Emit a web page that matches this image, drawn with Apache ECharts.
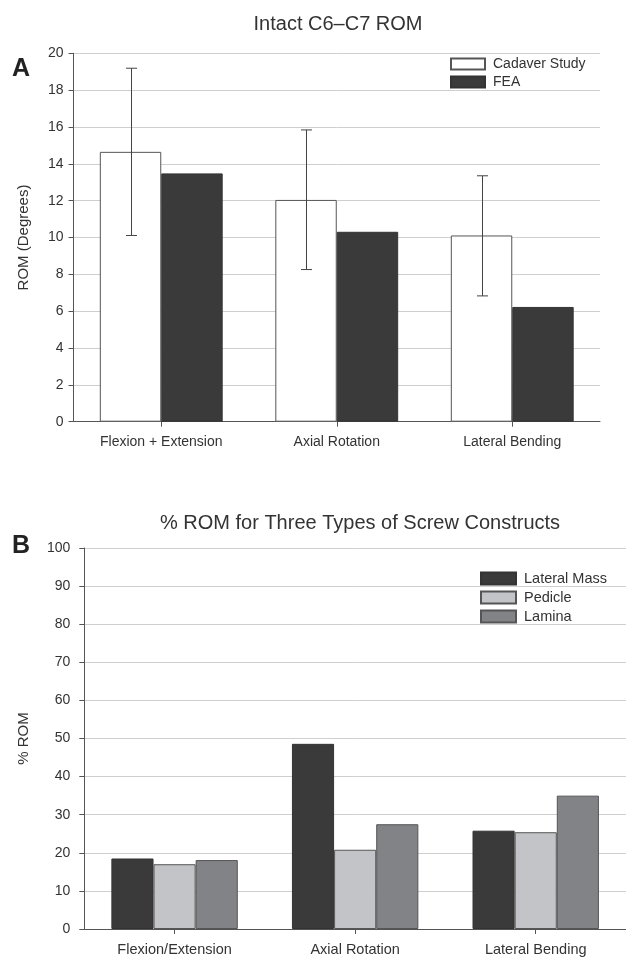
<!DOCTYPE html>
<html>
<head>
<meta charset="utf-8">
<script src="https://cdn.jsdelivr.net/npm/echarts@6/dist/echarts.min.js"></script>
<style>
html,body{margin:0;padding:0;background:#fff;}
#chart{width:626px;height:959px;}
</style>
</head>
<body>
<div id="chart"></div>
<script>
// ---- Panel A data ----
const categoriesA = ['Flexion + Extension', 'Axial Rotation', 'Lateral Bending'];
const cadaverStudy = [14.65, 12.04, 10.11];
const fea = [13.48, 10.31, 6.23];
const cadaverErrLow = [10.11, 8.26, 6.83];
const cadaverErrHigh = [19.19, 15.84, 13.35];
const yTicksA = { min: 0, max: 20, interval: 2 };

// ---- Panel B data ----
const categoriesB = ['Flexion/Extension', 'Axial Rotation', 'Lateral Bending'];
const lateralMass = [18.5, 48.6, 25.8];
const pedicle = [17.0, 20.8, 25.4];
const lamina = [18.1, 27.5, 35.0];
const yTicksB = { min: 0, max: 100, interval: 10 };

const FONT = 'Liberation Sans, Arial, sans-serif';
const TXT = '#333';
const AXIS = '#555';
const GRIDC = '#cfcfcf';

const errData = categoriesA.map((c, i) => [i, cadaverErrLow[i], cadaverErrHigh[i]]);

const chart = echarts.init(document.getElementById('chart'), null, { renderer: 'canvas' });

function yAxisCommon(gi, range, name, nameGap, fs, margin) {
  return {
    type: 'value', gridIndex: gi, min: range.min, max: range.max, interval: range.interval,
    name: name, nameLocation: 'middle', nameGap: nameGap, nameRotate: 90,
    nameTextStyle: { fontFamily: FONT, fontSize: 15, color: TXT },
    axisLine: { show: true, lineStyle: { color: AXIS, width: 1 } },
    axisTick: { show: true, length: 5, lineStyle: { color: AXIS } },
    axisLabel: { fontFamily: FONT, fontSize: fs, color: TXT, margin: margin },
    splitLine: { show: true, lineStyle: { color: GRIDC, width: 1 } }
  };
}
function xAxisCommon(gi, cats, fs) {
  return {
    type: 'category', gridIndex: gi, data: cats,
    axisLine: { show: true, lineStyle: { color: AXIS, width: 1 } },
    axisTick: { show: true, alignWithLabel: true, length: 5, lineStyle: { color: AXIS } },
    axisLabel: { fontFamily: FONT, fontSize: fs, color: TXT, margin: 13 },
    splitLine: { show: false }
  };
}

const option = {
  backgroundColor: '#fff',
  animation: false,
  title: [
    { text: 'Intact C6\u2013C7 ROM', left: 333, top: 9, textAlign: 'center',
      textStyle: { fontFamily: FONT, fontSize: 20, fontWeight: 'normal', color: TXT } },
    { text: '% ROM for Three Types of Screw Constructs', left: 355, top: 508, textAlign: 'center',
      textStyle: { fontFamily: FONT, fontSize: 20, fontWeight: 'normal', color: TXT } }
  ],
  graphic: [
    { type: 'text', left: 12, top: 57, style: { text: 'A', font: 'bold 25px ' + FONT, fill: '#222' } },
    { type: 'text', left: 12, top: 534, style: { text: 'B', font: 'bold 25px ' + FONT, fill: '#222' } }
  ],
  legend: [
    { data: ['Cadaver Study', 'FEA'], orient: 'vertical', left: 450, top: 57, padding: 0,
      itemWidth: 34, itemHeight: 11, itemGap: 4, icon: 'rect',
      textStyle: { fontFamily: FONT, fontSize: 14, color: TXT, padding: [0, 0, 0, 3] } },
    { data: ['Lateral Mass', 'Pedicle', 'Lamina'], orient: 'vertical', left: 480, top: 571, padding: 0,
      itemWidth: 35, itemHeight: 12, itemGap: 4, icon: 'rect',
      textStyle: { fontFamily: FONT, fontSize: 14.5, color: TXT, padding: [0, 0, 0, 3] } }
  ],
  grid: [
    { left: 73.5, top: 53.3, right: 26, height: 368.4, containLabel: false },
    { left: 84.3, top: 548, width: 543, height: 381, containLabel: false }
  ],
  xAxis: [xAxisCommon(0, categoriesA, 14), xAxisCommon(1, categoriesB, 14.5)],
  yAxis: [yAxisCommon(0, yTicksA, 'ROM (Degrees)', 42, 14, 10), yAxisCommon(1, yTicksB, '% ROM', 53, 14, 14)],
  series: [
    { name: 'Cadaver Study', type: 'bar', xAxisIndex: 0, yAxisIndex: 0, data: cadaverStudy,
      barGap: '0%', barCategoryGap: '30%',
      itemStyle: { color: '#ffffff', borderColor: '#555', borderWidth: 1 } },
    { name: 'FEA', type: 'bar', xAxisIndex: 0, yAxisIndex: 0, data: fea,
      barGap: '0%', barCategoryGap: '30%',
      itemStyle: { color: '#3a3a3a', borderColor: '#333', borderWidth: 1 } },
    { name: 'errors', type: 'custom', xAxisIndex: 0, yAxisIndex: 0, data: errData, z: 10,
      encode: { x: 0, y: [1, 2] },
      renderItem: function (params, api) {
        const idx = api.value(0);
        const lo = api.coord([idx, api.value(1)]);
        const hi = api.coord([idx, api.value(2)]);
        const catW = api.size([1, 0])[0];
        const barW = catW * 0.7 / 2;
        const x = Math.round(lo[0] - barW / 2) + 0.5;
        const cap = 5.5;
        const st = { stroke: '#444', lineWidth: 1 };
        return {
          type: 'group',
          children: [
            { type: 'line', shape: { x1: x, y1: hi[1], x2: x, y2: lo[1] }, style: st },
            { type: 'line', shape: { x1: x - cap, y1: hi[1], x2: x + cap, y2: hi[1] }, style: st },
            { type: 'line', shape: { x1: x - cap, y1: lo[1], x2: x + cap, y2: lo[1] }, style: st }
          ]
        };
      }
    },
    { name: 'Lateral Mass', type: 'bar', xAxisIndex: 1, yAxisIndex: 1, data: lateralMass,
      barGap: '0%', barCategoryGap: '30%',
      itemStyle: { color: '#3a3a3a', borderColor: '#333', borderWidth: 1 } },
    { name: 'Pedicle', type: 'bar', xAxisIndex: 1, yAxisIndex: 1, data: pedicle,
      barGap: '0%', barCategoryGap: '30%',
      itemStyle: { color: '#c3c4c7', borderColor: '#555', borderWidth: 1 } },
    { name: 'Lamina', type: 'bar', xAxisIndex: 1, yAxisIndex: 1, data: lamina,
      barGap: '0%', barCategoryGap: '30%',
      itemStyle: { color: '#828387', borderColor: '#555', borderWidth: 1 } }
  ]
};
chart.setOption(option);
</script>
</body>
</html>
